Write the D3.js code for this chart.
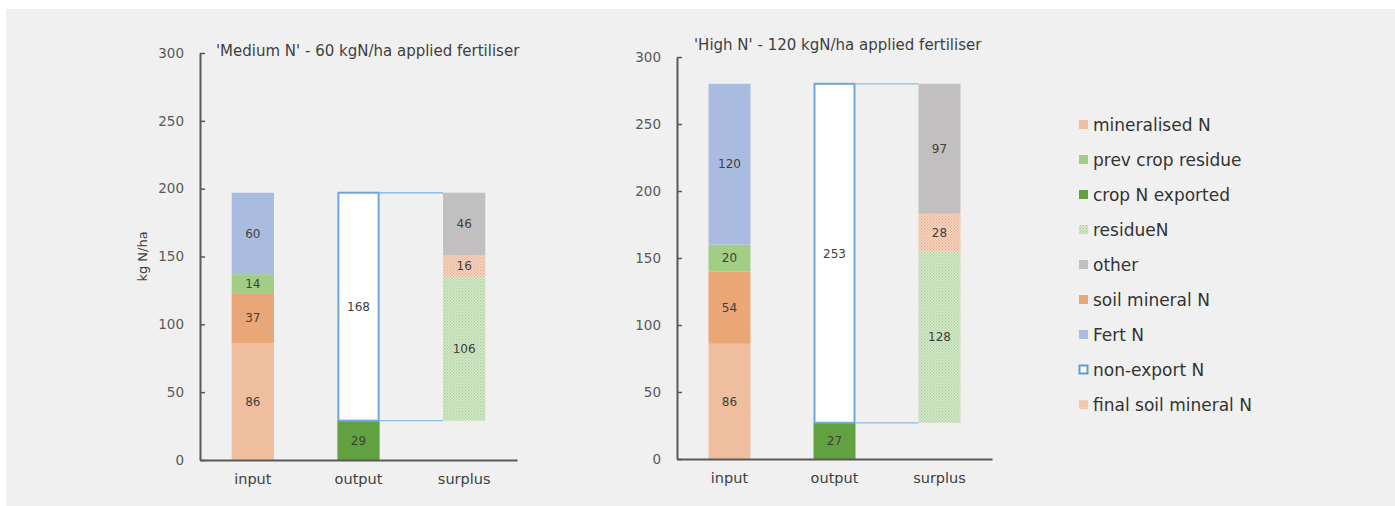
<!DOCTYPE html>
<html><head><meta charset="utf-8">
<script src="https://cdn.jsdelivr.net/npm/d3@7"></script>
<style>
html,body{margin:0;padding:0;background:#fff;}
svg{display:block;font-family:"DejaVu Sans",Verdana,sans-serif;}
</style></head>
<body><svg id="c" width="1395" height="506"></svg>
<script>
// ---- data ----
const categories = ["input","output","surplus"];
const yTicks = [0,50,100,150,200,250,300];
const titles = ["'Medium N' - 60 kgN/ha applied fertiliser","'High N' - 120 kgN/ha applied fertiliser"];
// input stack (bottom -> top)
const inputSeries = ["mineralised N","soil mineral N","prev crop residue","Fert N"];
const inputMedium = [86,37,14,60];
const inputHigh   = [86,54,20,120];
// output stack
const outputSeries = ["crop N exported","non-export N"];
const outputMedium = [29,168];
const outputHigh   = [27,253];
// surplus stack (base = crop N exported, invisible)
const surplusSeries = ["residueN","final soil mineral N","other"];
const surplusMedium = [106,16,46];
const surplusHigh   = [128,28,97];
const legendItems = ["mineralised N","prev crop residue","crop N exported","residueN","other","soil mineral N","Fert N","non-export N","final soil mineral N"];

const colors = {
  "mineralised N":"#efbe9f",
  "soil mineral N":"#e9a677",
  "prev crop residue":"#a1cd85",
  "Fert N":"#a9bcdf",
  "crop N exported":"#62a13f",
  "non-export N":"#ffffff",
  "residueN":"url(#patGreen)",
  "final soil mineral N":"url(#patOrange)",
  "other":"#c1bfbf"
};

const svg = d3.select("#c");
svg.append("rect").attr("x",6).attr("y",9).attr("width",1395-6).attr("height",506-9).attr("fill","#f0f0f0");

const defs = svg.append("defs");
function makePattern(id, bg, dot){
  const p = defs.append("pattern").attr("id",id).attr("patternUnits","userSpaceOnUse").attr("width",3).attr("height",3);
  p.append("rect").attr("width",3).attr("height",3).attr("fill",bg);
  p.append("rect").attr("x",0).attr("y",0).attr("width",1.2).attr("height",1.2).attr("fill",dot);
  p.append("rect").attr("x",1.5).attr("y",1.5).attr("width",1.2).attr("height",1.2).attr("fill",dot);
}
makePattern("patGreen","#d6e9cc","#a8cf95");
makePattern("patOrange","#f6d6c2","#e6ac8a");

const panels = [
  {title:titles[0], input:inputMedium, output:outputMedium, surplus:surplusMedium,
   x0:200, x1:517, yBottom:460, yTop:53, titleX:216, titleY:56, ylabel:true},
  {title:titles[1], input:inputHigh, output:outputHigh, surplus:surplusHigh,
   x0:677, x1:992, yBottom:459, yTop:57, titleX:694, titleY:50, ylabel:false}
];

panels.forEach(p=>{
  const g = svg.append("g");
  const y = d3.scaleLinear().domain([0,300]).range([p.yBottom,p.yTop]);
  const x = d3.scaleBand().domain(categories).range([p.x0,p.x1]).paddingInner(0.6).paddingOuter(0.3);
  const bw = x.bandwidth();

  let acc = 0;
  const inSegs = p.input.map((v,i)=>{const s={name:inputSeries[i],y0:acc,y1:acc+v,v}; acc+=v; return s;});
  acc = p.output[0];
  const surSegs = p.surplus.map((v,i)=>{const s={name:surplusSeries[i],y0:acc,y1:acc+v,v}; acc+=v; return s;});
  const outSegs = [{name:outputSeries[0],y0:0,y1:p.output[0],v:p.output[0]},
                   {name:outputSeries[1],y0:p.output[0],y1:p.output[0]+p.output[1],v:p.output[1]}];

  const drawSegs = (segs,cat)=>{
    segs.forEach(s=>{
      const r = g.append("rect").attr("x",x(cat)).attr("width",bw)
        .attr("y",y(s.y1)).attr("height",y(s.y0)-y(s.y1)).attr("fill",colors[s.name]);
      if(s.name==="non-export N"){
        r.attr("stroke","#6fa6dc").attr("stroke-width",2).attr("x",x(cat)+1).attr("width",bw-2);
      }
    });
  };
  drawSegs(inSegs,"input");
  drawSegs(outSegs,"output");
  drawSegs(surSegs,"surplus");

  const outTop = p.output[0]+p.output[1];
  [outTop,p.output[0]].forEach(v=>{
    g.append("line").attr("x1",x("output")+bw).attr("x2",x("surplus"))
      .attr("y1",y(v)).attr("y2",y(v)).attr("stroke","#8dbbe6").attr("stroke-width",1.3);
  });

  const lab = (segs,cat)=>segs.forEach(s=>{
    g.append("text").attr("x",x(cat)+bw/2).attr("y",y((s.y0+s.y1)/2)).attr("dy","0.35em")
      .attr("text-anchor","middle").attr("font-size",12).attr("fill","#404040").text(s.v);
  });
  lab(inSegs,"input"); lab(outSegs,"output"); lab(surSegs,"surplus");

  const ya = d3.axisLeft(y).tickValues(yTicks).tickSizeInner(-5).tickSizeOuter(0).tickPadding(16);
  const yg = g.append("g").attr("transform",`translate(${p.x0},0)`).call(ya);
  yg.select(".domain").attr("stroke","#595959").attr("stroke-width",2);
  yg.selectAll(".tick line").attr("stroke","#595959").attr("stroke-width",1.5);
  yg.selectAll(".tick text").attr("font-size",13.5).attr("fill","#595959").attr("font-family","DejaVu Sans");
  const xa = d3.axisBottom(x).tickSize(0).tickPadding(14);
  const xg = g.append("g").attr("transform",`translate(0,${p.yBottom})`).call(xa);
  xg.select(".domain").attr("stroke","#595959").attr("stroke-width",2);
  xg.selectAll(".tick text").attr("font-size",14.5).attr("fill","#404040").attr("font-family","DejaVu Sans");

  g.append("text").attr("x",p.titleX).attr("y",p.titleY).attr("font-size",15).attr("fill","#404040").text(p.title);
  if(p.ylabel){
    g.append("text").attr("transform",`translate(147,${(p.yBottom+p.yTop)/2}) rotate(-90)`)
      .attr("text-anchor","middle").attr("font-size",13).attr("fill","#404040").text("kg N/ha");
  }
});

// legend
const lg = svg.append("g");
legendItems.forEach((name,i)=>{
  const cy = 125 + i*35;
  if(name==="non-export N"){
    lg.append("rect").attr("x",1079.5).attr("y",cy-4.5).attr("width",8).attr("height",8)
      .attr("fill","#fff").attr("stroke","#5b9bd5").attr("stroke-width",2);
  } else {
    lg.append("rect").attr("x",1079).attr("y",cy-5).attr("width",9).attr("height",9).attr("fill",colors[name]);
  }
  lg.append("text").attr("x",1093).attr("y",cy).attr("dy","0.35em").attr("font-size",17)
    .attr("fill","#333333").text(name);
});
</script></body></html>
